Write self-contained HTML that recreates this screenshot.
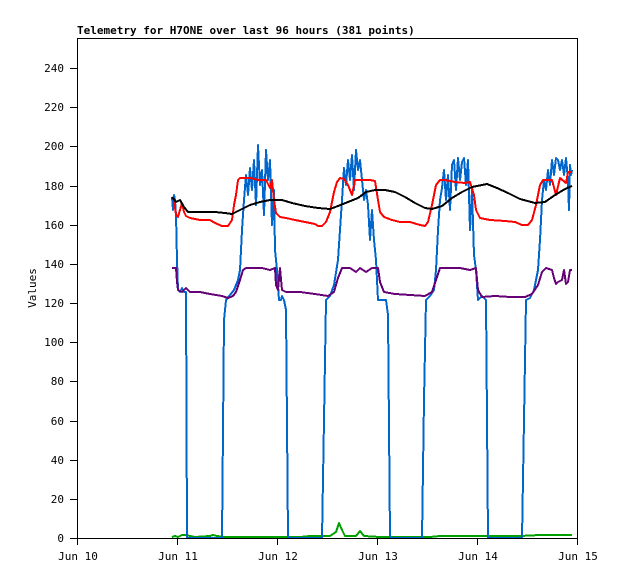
<!DOCTYPE html>
<html><head><meta charset="utf-8"><style>
body{margin:0;background:#fff;width:618px;height:579px;overflow:hidden}
text{font-family:"DejaVu Sans Mono","Liberation Mono",monospace;font-size:11px;fill:#000}
</style></head><body>
<svg width="618" height="579" viewBox="0 0 618 579">
<rect width="618" height="579" fill="#fff"/>
<text x="77" y="34" font-weight="bold">Telemetry for H7ONE over last 96 hours (381 points)</text>
<rect x="77.5" y="38.5" width="500" height="500" fill="none" stroke="#000"/>
<g text-anchor="end">
<text x="64" y="542">0</text><text x="64" y="503">20</text><text x="64" y="464">40</text><text x="64" y="425">60</text><text x="64" y="385">80</text><text x="64" y="346">100</text><text x="64" y="307">120</text><text x="64" y="268">140</text><text x="64" y="229">160</text><text x="64" y="190">180</text><text x="64" y="150">200</text><text x="64" y="111">220</text><text x="64" y="72">240</text>
</g>
<g stroke="#000">
<line x1="70" y1="538.5" x2="77" y2="538.5"/><line x1="70" y1="499.5" x2="77" y2="499.5"/><line x1="70" y1="460.5" x2="77" y2="460.5"/><line x1="70" y1="421.5" x2="77" y2="421.5"/><line x1="70" y1="381.5" x2="77" y2="381.5"/><line x1="70" y1="342.5" x2="77" y2="342.5"/><line x1="70" y1="303.5" x2="77" y2="303.5"/><line x1="70" y1="264.5" x2="77" y2="264.5"/><line x1="70" y1="225.5" x2="77" y2="225.5"/><line x1="70" y1="186.5" x2="77" y2="186.5"/><line x1="70" y1="146.5" x2="77" y2="146.5"/><line x1="70" y1="107.5" x2="77" y2="107.5"/><line x1="70" y1="68.5" x2="77" y2="68.5"/>
<line x1="77.5" y1="538" x2="77.5" y2="545"/><line x1="177.5" y1="538" x2="177.5" y2="545"/><line x1="277.5" y1="538" x2="277.5" y2="545"/><line x1="377.5" y1="538" x2="377.5" y2="545"/><line x1="477.5" y1="538" x2="477.5" y2="545"/><line x1="577.5" y1="538" x2="577.5" y2="545"/>
</g>
<g text-anchor="middle">
<text x="78" y="560">Jun 10</text><text x="178" y="560">Jun 11</text><text x="278" y="560">Jun 12</text><text x="378" y="560">Jun 13</text><text x="478" y="560">Jun 14</text><text x="578" y="560">Jun 15</text>
</g>
<text transform="translate(36,288) rotate(-90)" text-anchor="middle">Values</text>
<g fill="none" stroke-width="2" stroke-linejoin="round" shape-rendering="crispEdges">
<polyline stroke="#00a000" points="172,537 175,536 178,537 182,535 186,535 190,536 195,537 210,536 213,535 217,536 225,537 300,537 310,536 330,536 336,532 339,523 342,530 345,536 356,536 360,531 364,536 380,537 430,537 440,536 460,536 500,536 520,536 540,535 572,535"/>
<polyline stroke="#0066cc" points="172,197 173,210 174,195 175,200 176,215 177,260 178,290 180,292 182,288 184,292 186,292 187,538 222,538 223,430 224,320 226,300 230,295 234,290 238,280 240,270 242,230 244,200 246,175 248,195 250,168 252,190 254,160 256,205 258,145 260,185 262,170 264,215 266,150 268,180 270,160 272,225 274,190 275,250 277,270 279,300 281,300 282,296 284,300 286,310 288,538 322,538 324,420 326,300 330,296 334,285 338,260 340,230 342,200 344,168 346,185 348,160 350,180 352,155 354,190 356,150 358,170 360,160 362,180 364,200 366,190 368,205 370,240 372,210 374,240 376,260 378,300 380,300 384,300 386,300 388,315 390,538 422,538 424,400 426,300 430,296 434,290 436,270 438,230 440,200 442,188 444,170 446,200 448,175 450,210 452,165 454,160 456,190 458,158 460,180 462,162 464,158 466,185 468,160 470,230 472,190 474,255 476,270 478,300 482,296 486,300 488,538 522,538 524,420 526,300 530,298 534,290 538,270 540,240 542,200 544,180 546,190 548,170 550,185 552,160 554,175 556,158 558,160 560,170 562,160 564,175 566,158 568,180 569,210 570,165 571,175 572,170"/>
<polyline stroke="#ff0000" points="172,197 174,200 176,215 178,217 180,210 182,203 184,212 186,216 190,218 200,220 210,220 215,223 222,226 228,226 232,220 234,205 236,195 238,180 240,178 244,178 250,178 258,180 266,180 270,188 272,180 274,200 276,213 280,217 286,218 295,220 305,222 315,224 318,226 322,226 326,222 330,212 334,192 337,182 340,178 344,179 348,185 352,195 355,180 362,180 370,180 375,181 378,200 380,212 384,217 392,220 400,222 410,222 420,225 425,226 428,222 432,205 436,185 440,180 445,180 455,182 465,183 470,182 474,195 476,210 480,218 490,220 505,221 515,222 522,225 528,225 532,220 536,205 540,185 543,180 552,180 556,195 560,178 566,183 568,172 572,172"/>
<polyline stroke="#000000" points="172,197 176,202 180,200 184,207 188,212 200,212 215,212 225,213 232,214 240,210 250,205 260,202 270,200 282,200 292,203 305,206 318,208 330,209 338,206 348,202 358,198 366,192 375,190 385,190 395,192 405,197 415,203 425,208 432,209 442,206 452,198 462,192 472,187 487,184 497,188 508,193 520,199 535,203 545,202 555,195 565,189 572,186"/>
<polyline stroke="#660077" points="172,268 176,268 177,282 178,290 182,292 186,288 190,292 200,292 210,294 222,296 228,298 233,296 236,292 240,280 243,270 246,268 256,268 262,268 270,270 275,268 276,285 278,290 280,268 282,290 286,292 300,292 315,294 328,296 334,292 338,278 342,268 350,268 356,272 360,268 366,272 372,268 378,268 380,282 384,292 395,294 410,295 425,296 432,292 436,280 440,268 450,268 460,268 470,270 476,268 478,290 482,297 495,296 510,297 525,297 532,294 538,285 542,272 546,268 552,270 554,278 556,284 558,282 562,280 564,270 566,284 568,282 570,270 572,270"/>
</g>
<line x1="77" y1="538.5" x2="577" y2="538.5" stroke="#000"/>
</svg>
</body></html>
